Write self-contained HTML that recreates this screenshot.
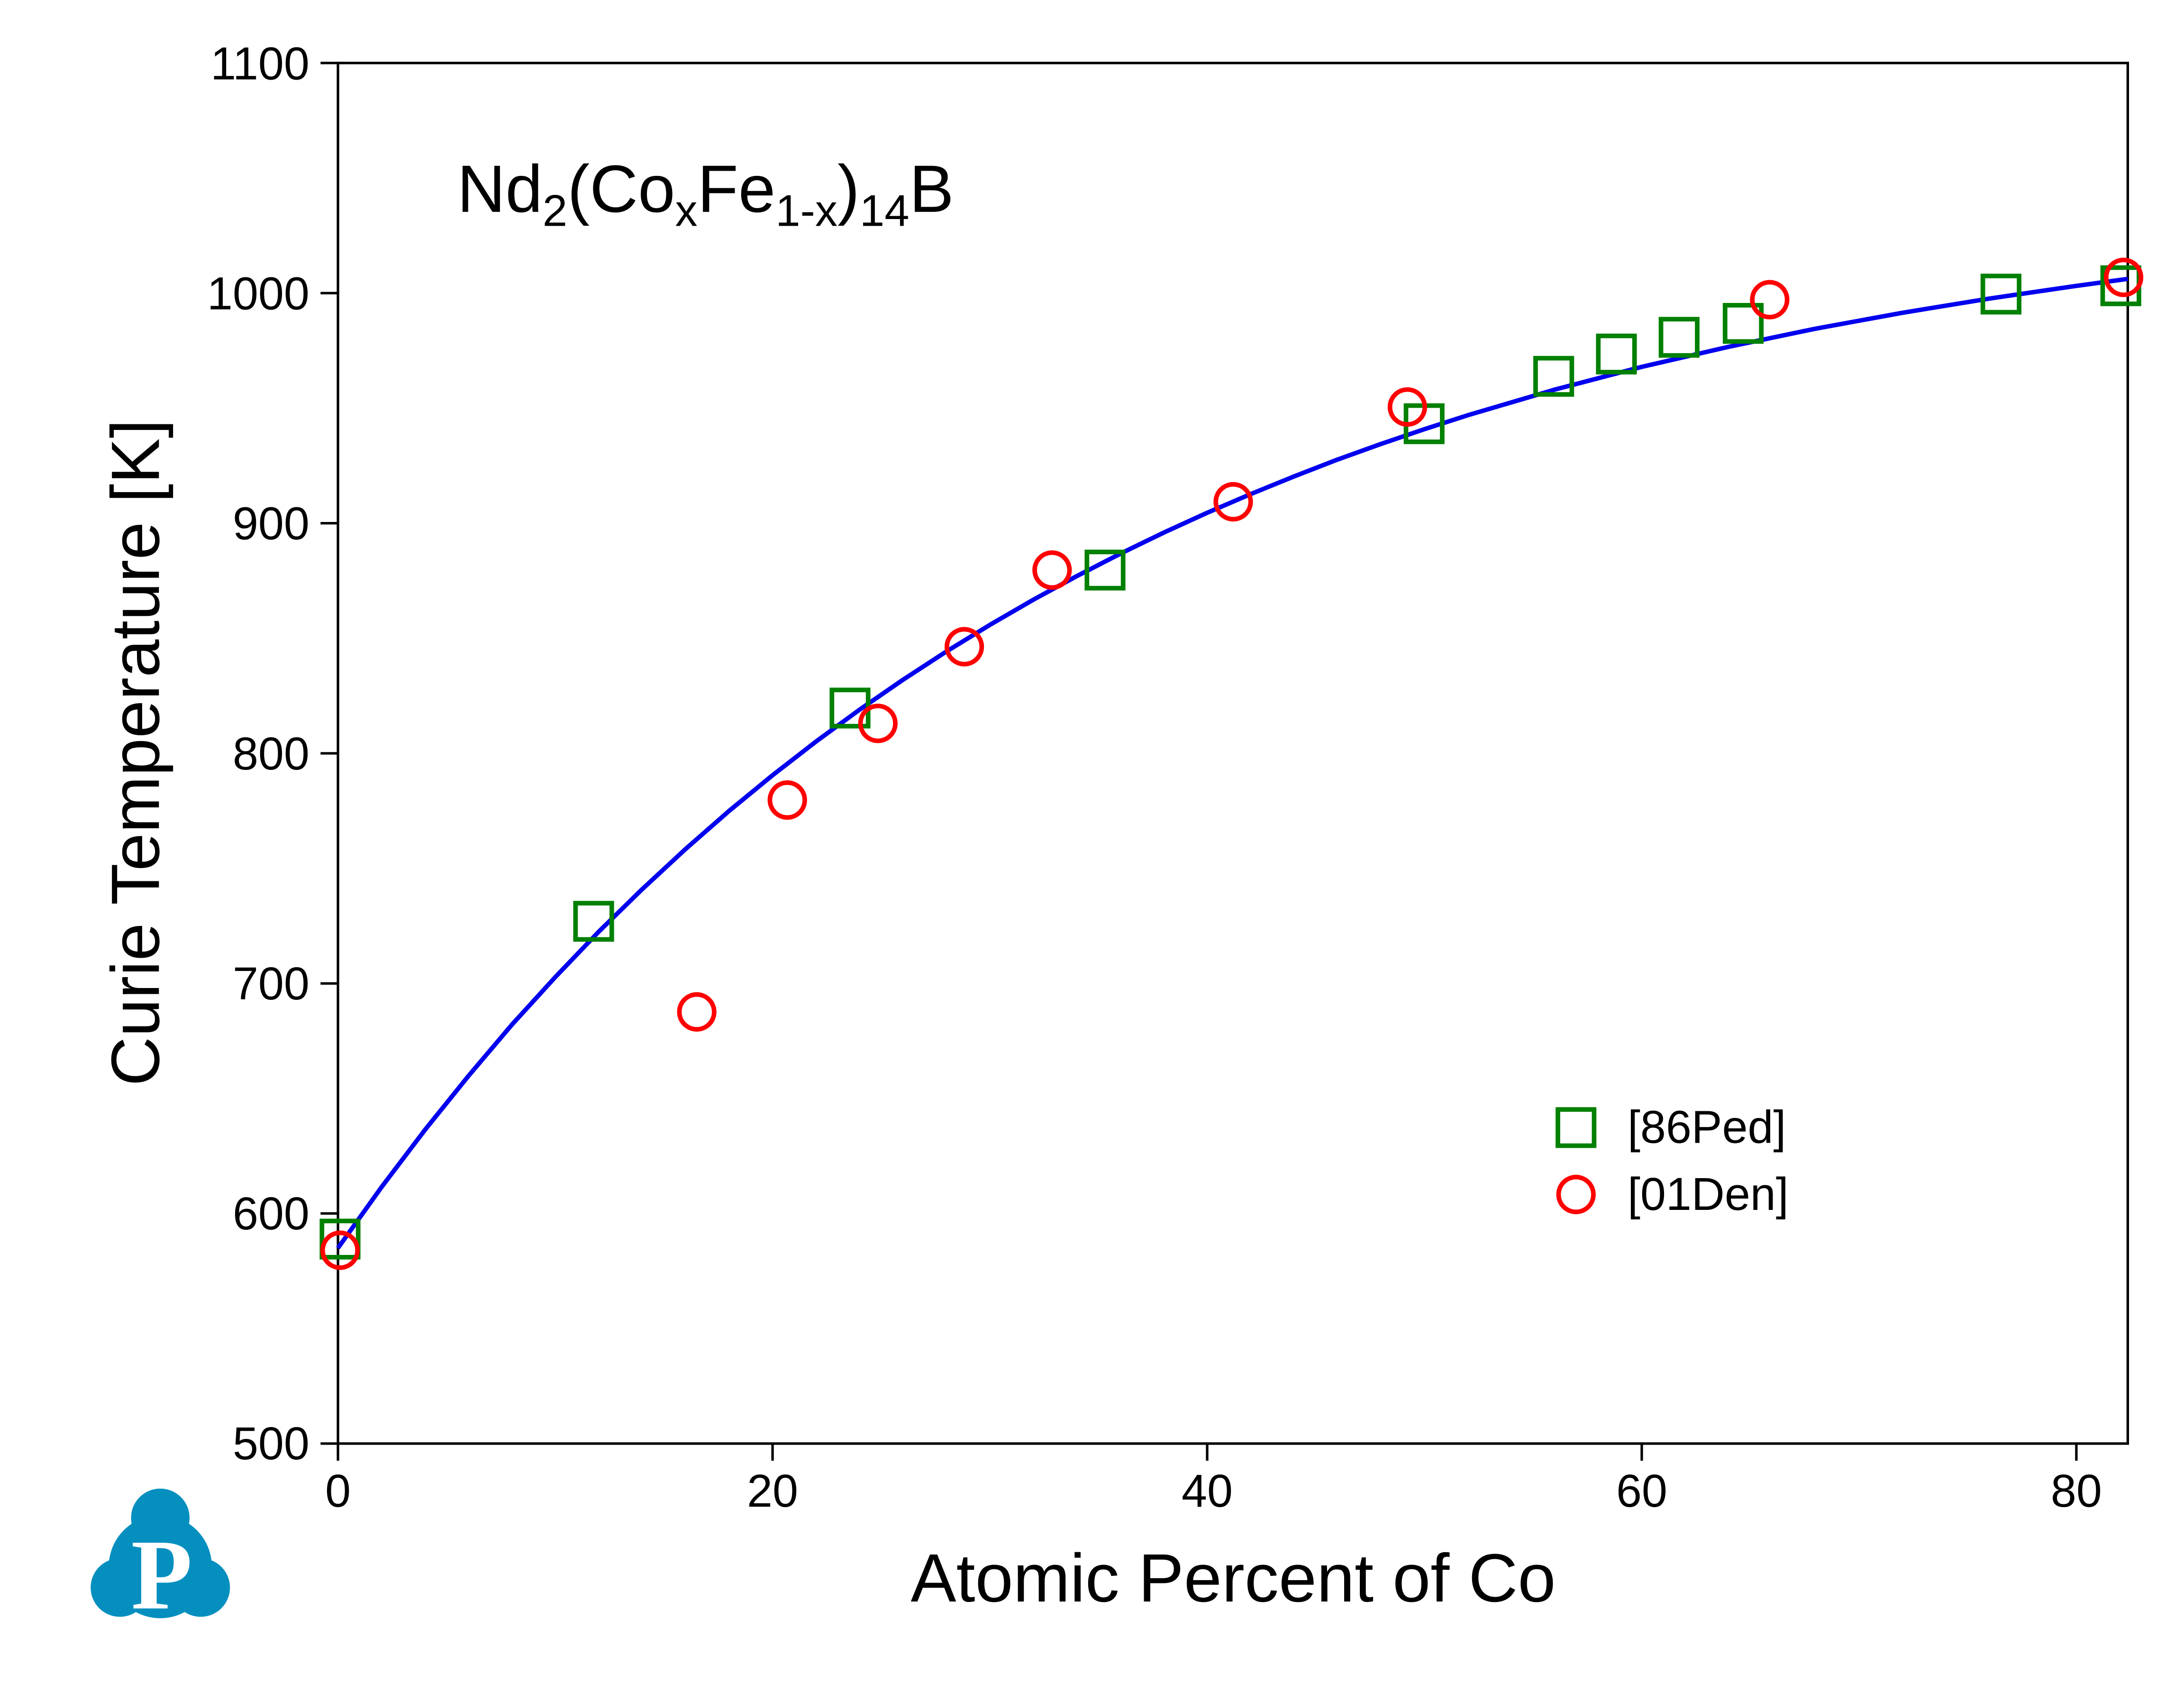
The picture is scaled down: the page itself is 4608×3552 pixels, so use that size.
<!DOCTYPE html>
<html><head><meta charset="utf-8"><style>
html,body{margin:0;padding:0;background:#fff;}
svg{display:block;}
text{font-family:"Liberation Sans",Arial,sans-serif;fill:#000;}
</style></head><body>
<svg width="4608" height="3552" viewBox="0 0 1567.3 1208.2" xmlns="http://www.w3.org/2000/svg">
<rect x="0" y="0" width="1567.3" height="1208.2" fill="#fff"/>
<rect x="242.5" y="45.2" width="1284.5" height="990.5" fill="none" stroke="#000" stroke-width="1.8"/>
<g stroke="#000" stroke-width="1.8">
<line x1="230" y1="45.2" x2="242.5" y2="45.2"/>
<line x1="230" y1="210.3" x2="242.5" y2="210.3"/>
<line x1="230" y1="375.4" x2="242.5" y2="375.4"/>
<line x1="230" y1="540.5" x2="242.5" y2="540.5"/>
<line x1="230" y1="705.6" x2="242.5" y2="705.6"/>
<line x1="230" y1="870.6" x2="242.5" y2="870.6"/>
<line x1="230" y1="1035.7" x2="242.5" y2="1035.7"/>
<line x1="242.5" y1="1035.7" x2="242.5" y2="1048"/>
<line x1="554.4" y1="1035.7" x2="554.4" y2="1048"/>
<line x1="866.3" y1="1035.7" x2="866.3" y2="1048"/>
<line x1="1178.2" y1="1035.7" x2="1178.2" y2="1048"/>
<line x1="1490.1" y1="1035.7" x2="1490.1" y2="1048"/>
</g>
<g font-size="33" text-anchor="end">
<text x="222" y="57">1100</text>
<text x="222" y="222">1000</text>
<text x="222" y="387">900</text>
<text x="222" y="552">800</text>
<text x="222" y="717">700</text>
<text x="222" y="882">600</text>
<text x="222" y="1047">500</text>
</g>
<g font-size="33" text-anchor="middle">
<text x="242.5" y="1081">0</text>
<text x="554.4" y="1081">20</text>
<text x="866.3" y="1081">40</text>
<text x="1178.2" y="1081">60</text>
<text x="1490.1" y="1081">80</text>
</g>
<text x="885" y="1149" font-size="49" text-anchor="middle">Atomic Percent of Co</text>
<text transform="translate(114,540) rotate(-90)" font-size="49" text-anchor="middle">Curie Temperature [K]</text>
<text x="328" y="152" font-size="48">Nd<tspan font-size="32" dy="10">2</tspan><tspan dy="-10">(Co</tspan><tspan font-size="32" dy="10">x</tspan><tspan dy="-10">Fe</tspan><tspan font-size="32" dy="10">1-x</tspan><tspan dy="-10">)</tspan><tspan font-size="32" dy="10">14</tspan><tspan dy="-10">B</tspan></text>
<path fill="none" stroke="#0000ee" stroke-width="3.2" stroke-linejoin="round" d="M242.5,895.4 L273.7,851.8 L304.9,810.7 L336.1,772.0 L367.3,735.2 L398.5,701.0 L429.6,668.5 L460.8,638.0 L492.0,609.1 L523.2,581.8 L554.4,556.2 L585.6,532.0 L616.8,509.2 L648.0,487.7 L679.2,467.4 L710.4,448.3 L741.5,430.3 L772.8,413.3 L803.9,397.3 L835.2,382.1 L866.3,367.9 L897.5,354.5 L928.7,341.8 L959.9,329.7 L991.1,318.5 L1022.3,307.9 L1053.4,297.9 L1115.8,279.5 L1178.2,263.2 L1240.6,248.8 L1303.0,235.8 L1365.3,224.4 L1427.7,214.2 L1490.1,205.1 L1527,200.1"/>
<g fill="none" stroke="#008000" stroke-width="3.3">
<rect x="231" y="876" width="26" height="26"/>
<rect x="413" y="648" width="26" height="26"/>
<rect x="597" y="495" width="26" height="26"/>
<rect x="780" y="396" width="26" height="26"/>
<rect x="1009" y="291" width="26" height="26"/>
<rect x="1102" y="257" width="26" height="26"/>
<rect x="1147" y="241" width="26" height="26"/>
<rect x="1192" y="229" width="26" height="26"/>
<rect x="1238" y="219" width="26" height="26"/>
<rect x="1423" y="198" width="26" height="26"/>
<rect x="1509" y="192" width="26" height="26"/>
<rect x="1118" y="796" width="26" height="26"/>
</g>
<g fill="none" stroke="#ff0000" stroke-width="3.3">
<circle cx="244" cy="897" r="12.5"/>
<circle cx="500" cy="726" r="12.5"/>
<circle cx="565" cy="574" r="12.5"/>
<circle cx="630" cy="519" r="12.5"/>
<circle cx="692" cy="464" r="12.5"/>
<circle cx="755" cy="409" r="12.5"/>
<circle cx="885" cy="360" r="12.5"/>
<circle cx="1010" cy="292" r="12.5"/>
<circle cx="1270" cy="215" r="12.5"/>
<circle cx="1524" cy="199" r="12.5"/>
<circle cx="1131" cy="857" r="12.5"/>
</g>
<g font-size="33">
<text x="1168" y="820">[86Ped]</text>
<text x="1168" y="868">[01Den]</text>
</g>
<g fill="#058fbf">
<circle cx="115" cy="1089" r="21"/>
<circle cx="115" cy="1124" r="37"/>
<circle cx="86" cy="1139" r="21"/>
<circle cx="144" cy="1139" r="21"/>
</g>
<text x="116" y="1154" font-size="72" font-weight="bold" text-anchor="middle" style="font-family:'Liberation Serif',serif;fill:#fff">P</text>
</svg>
</body></html>
